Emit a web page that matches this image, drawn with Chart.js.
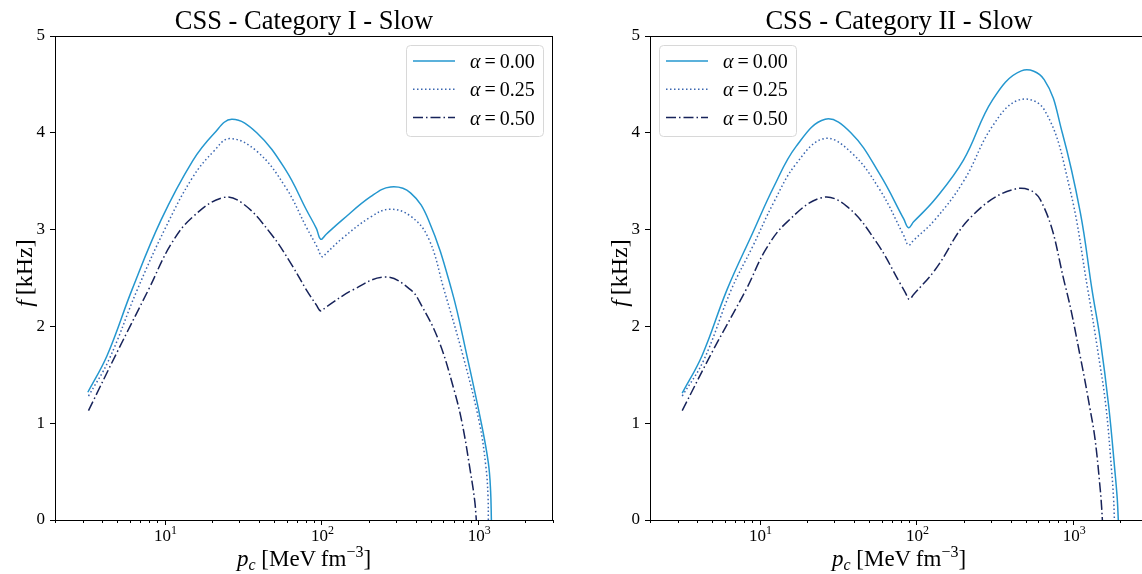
<!DOCTYPE html>
<html>
<head>
<meta charset="utf-8">
<script src="https://cdn.jsdelivr.net/npm/chart.js@4.4.1/dist/chart.umd.min.js"></script>
<style>
  html, body { margin: 0; padding: 0; background: #fff; }
  #wrap { position: relative; width: 1142px; height: 574px; overflow: hidden; }
  .panel { position: absolute; top: 0; width: 570px; height: 574px; }
  #panelA { left: 0; }
  #panelB { left: 595px; }
</style>
</head>
<body>
<div id="wrap">
  <div class="panel" id="panelA"><canvas id="chartA" width="570" height="574"></canvas></div>
  <div class="panel" id="panelB"><canvas id="chartB" width="570" height="574"></canvas></div>
</div>
<script>
// ---- data ----
const alphaLabels = ["0.00", "0.25", "0.50"];

const xTickValues = [2, 3, 4, 5, 6, 7, 8, 9, 10, 20, 30, 40, 50, 60, 70, 80, 90,
  100, 200, 300, 400, 500, 600, 700, 800, 900, 1000, 2000, 3000];
const xMajorTicks = [10, 100, 1000];
const xMajorExponents = ["1", "2", "3"];

// Category I
const pcI_00 = [3.24, 4.3, 6.2, 9.5, 15.1, 20.6, 26.8, 38.7, 59, 80.5, 93, 99, 107, 136, 206, 276, 370, 482, 676, 852, 1047, 1161, 1200, 1214];
const fI_00  = [1.32, 1.70, 2.38, 3.10, 3.71, 3.99, 4.14, 4.00, 3.62, 3.20, 3.01, 2.90, 2.95, 3.10, 3.34, 3.44, 3.38, 3.10, 2.38, 1.68, 1.00, 0.59, 0.30, 0];
const pcI_25 = [3.27, 4.4, 6.7, 10, 15.1, 20.6, 26, 38.7, 59, 80.5, 94, 101, 108, 136, 206, 272, 370, 482, 605, 805, 1019, 1120, 1155, 1161];
const fI_25  = [1.28, 1.65, 2.38, 3.00, 3.54, 3.81, 3.94, 3.81, 3.44, 3.02, 2.82, 2.72, 2.76, 2.91, 3.13, 3.21, 3.14, 2.91, 2.38, 1.68, 1.00, 0.55, 0.25, 0];
const pcI_50 = [3.27, 5.0, 7.9, 11, 15.1, 23.5, 31.5, 47.5, 65.6, 80, 93, 99, 107, 160, 256, 370, 434, 558, 700, 790, 894, 950, 973];
const fI_50  = [1.13, 1.74, 2.38, 2.85, 3.13, 3.33, 3.27, 2.96, 2.62, 2.38, 2.22, 2.16, 2.20, 2.38, 2.51, 2.38, 2.22, 1.86, 1.35, 1.00, 0.49, 0.20, 0];

// Category II
const pcII_00 = [3.21, 4.3, 6.2, 9.0, 12.3, 17.1, 26.2, 38.2, 58, 83, 89, 96, 131, 200, 306, 467, 653, 852, 1112, 1318, 1489, 1686, 1849, 1910, 1940];
const fII_00  = [1.31, 1.70, 2.38, 2.96, 3.44, 3.86, 4.14, 4.00, 3.58, 3.11, 3.02, 3.08, 3.31, 3.72, 4.34, 4.64, 4.55, 4.00, 3.17, 2.38, 1.86, 1.17, 0.49, 0.22, 0];
const pcII_25 = [3.21, 4.4, 6.6, 9.0, 12.3, 17.1, 25.8, 38.2, 58, 83, 89, 96, 131, 200, 306, 452, 653, 946, 1239, 1450, 1618, 1760, 1810, 1832];
const fII_25  = [1.28, 1.65, 2.38, 2.82, 3.28, 3.68, 3.94, 3.80, 3.42, 2.94, 2.84, 2.89, 3.10, 3.50, 4.07, 4.34, 4.24, 3.44, 2.38, 1.70, 1.17, 0.50, 0.22, 0];
const pcII_50 = [3.21, 5.0, 8.2, 11, 15, 24.9, 36, 55.6, 79, 85, 90, 96, 131, 223, 428, 617, 893, 1112, 1280, 1380, 1489, 1520, 1535];
const fII_50  = [1.13, 1.74, 2.38, 2.80, 3.08, 3.33, 3.24, 2.87, 2.44, 2.35, 2.28, 2.33, 2.58, 3.13, 3.42, 3.31, 2.41, 1.68, 1.15, 0.83, 0.31, 0.12, 0];

// ---- styling ----
const SERIF = "'Liberation Serif', 'DejaVu Serif', serif";
const lineColors = ["#2497cf", "#3a66b0", "#17235a"];
const lineDashes = [[], [1.5, 2.5], [10, 3, 1.5, 3]];

const toPoints = (xs, ys) => xs.map((x, i) => ({ x: x, y: ys[i] }));

function drawRuns(ctx, runs, x, y, align) {
  let total = 0;
  runs.forEach((r) => {
    ctx.font = r.font;
    r.w = ctx.measureText(r.text).width;
    total += r.w;
  });
  let cx = align === "center" ? x - total / 2 : x;
  ctx.textAlign = "left";
  ctx.textBaseline = "alphabetic";
  runs.forEach((r) => {
    ctx.font = r.font;
    ctx.fillText(r.text, cx, y + (r.dy || 0));
    cx += r.w;
  });
}

// frame, x ticks + labels, titles and the in-axes legend
const decorPlugin = {
  id: "decor",
  afterDraw: (chart, args, opts) => {
    const { ctx, chartArea: a } = chart;
    const xs = chart.scales.x;
    ctx.save();
    ctx.strokeStyle = "#000";
    ctx.lineWidth = 1;
    ctx.beginPath();
    ctx.moveTo(a.left, a.top + 0.5);
    ctx.lineTo(a.right, a.top + 0.5);
    ctx.moveTo(a.right - 0.5, a.top);
    ctx.lineTo(a.right - 0.5, a.bottom);
    xs.ticks.forEach((t) => {
      const px = Math.round(xs.getPixelForValue(t.value)) + 0.5;
      const len = xMajorTicks.includes(t.value) ? 5 : 3;
      ctx.moveTo(px, a.bottom);
      ctx.lineTo(px, a.bottom + len);
    });
    ctx.stroke();

    ctx.fillStyle = "#000";
    xMajorTicks.forEach((v, i) => {
      drawRuns(ctx, [
        { text: "10", font: `17px ${SERIF}` },
        { text: xMajorExponents[i], font: `12px ${SERIF}`, dy: -7 },
      ], xs.getPixelForValue(v) + 1, 541, "center");
    });

    const midX = (a.left + a.right) / 2;
    const midY = (a.top + a.bottom) / 2;
    drawRuns(ctx, [{ text: opts.title, font: `26.5px ${SERIF}` }], midX, 29, "center");
    drawRuns(ctx, [
      { text: "p", font: `italic 23px ${SERIF}` },
      { text: "c", font: `italic 16px ${SERIF}`, dy: 4 },
      { text: " [MeV\u2009fm", font: `23px ${SERIF}` },
      { text: "\u22123", font: `16px ${SERIF}`, dy: -9 },
      { text: "]", font: `23px ${SERIF}` },
    ], midX, 566, "center");

    ctx.save();
    ctx.translate(32, midY - 5);
    ctx.rotate(-Math.PI / 2);
    drawRuns(ctx, [
      { text: "f", font: `italic 24px ${SERIF}` },
      { text: "\u2009[kHz]", font: `24px ${SERIF}` },
    ], 0, 0, "center");
    ctx.restore();

    // legend
    const bw = 137, bh = 91;
    const bx = opts.legendSide === "right" ? a.right - 10 - bw : a.left + 9;
    const by = a.top + 9;
    ctx.beginPath();
    ctx.roundRect(bx + 0.5, by + 0.5, bw, bh, 4);
    ctx.fillStyle = "rgba(255,255,255,0.85)";
    ctx.fill();
    ctx.strokeStyle = "#d8d8d8";
    ctx.stroke();
    chart.data.datasets.forEach((ds, i) => {
      const ry = by + 16 + i * 28.3;
      ctx.beginPath();
      ctx.setLineDash(ds.borderDash || []);
      ctx.strokeStyle = ds.borderColor;
      ctx.lineWidth = 1.5;
      ctx.moveTo(bx + 7, ry);
      ctx.lineTo(bx + 49, ry);
      ctx.stroke();
      ctx.setLineDash([]);
      ctx.fillStyle = "#000";
      drawRuns(ctx, [
        { text: "\u03b1", font: `italic 20px ${SERIF}` },
        { text: "\u2009=\u2009", font: `20px ${SERIF}` },
        { text: ds.label, font: `20px ${SERIF}` },
      ], bx + 64, ry + 7, "left");
    });
    ctx.restore();
  },
};

function buildChart(canvasId, title, legendSide, series) {
  const ctx = document.getElementById(canvasId).getContext("2d");
  return new Chart(ctx, {
    type: "line",
    data: {
      datasets: series.map((s, i) => ({
        label: alphaLabels[i],
        data: toPoints(s[0], s[1]),
        borderColor: lineColors[i],
        borderDash: lineDashes[i],
        borderWidth: 1.5,
        borderCapStyle: "butt",
        pointRadius: 0,
        fill: false,
        tension: 0.4,
      })),
    },
    options: {
      responsive: false,
      animation: false,
      devicePixelRatio: 1,
      layout: { padding: { top: 36, right: 17, left: 0, bottom: 0 } },
      plugins: {
        legend: { display: false },
        tooltip: { enabled: false },
        decor: { title: title, legendSide: legendSide },
      },
      scales: {
        x: {
          type: "logarithmic",
          min: 2,
          max: 3000,
          afterBuildTicks: (scale) => {
            scale.ticks = xTickValues.map((v) => ({ value: v, major: xMajorTicks.includes(v) }));
          },
          afterFit: (scale) => { scale.height = 54; },
          grid: { display: false, drawTicks: false },
          border: { display: true, color: "#000", width: 1 },
          ticks: { display: false, autoSkip: false },
        },
        y: {
          min: 0,
          max: 5,
          afterFit: (scale) => { scale.width = 55; },
          grid: { drawOnChartArea: false, drawTicks: true, tickLength: 5, color: "#000", tickColor: "#000" },
          border: { display: true, color: "#000", width: 1 },
          ticks: {
            stepSize: 1,
            padding: 5,
            color: "#000",
            font: { family: SERIF, size: 17 },
          },
        },
      },
    },
    plugins: [decorPlugin],
  });
}

buildChart("chartA", "CSS - Category I - Slow", "right", [
  [pcI_00, fI_00], [pcI_25, fI_25], [pcI_50, fI_50],
]);
buildChart("chartB", "CSS - Category II - Slow", "left", [
  [pcII_00, fII_00], [pcII_25, fII_25], [pcII_50, fII_50],
]);
</script>
</body>
</html>
